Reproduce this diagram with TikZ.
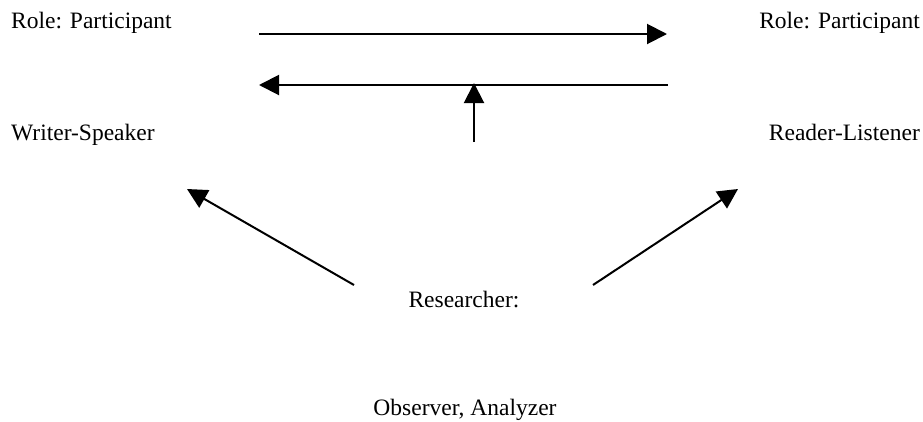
\documentclass[tikz,border=0pt]{standalone}
\usepackage{fontspec}
\setmainfont{Liberation Serif}
\usetikzlibrary{arrows.meta}
\begin{document}
\begin{tikzpicture}[x=1pt,y=-1pt,
  lbl/.style={font=\fontsize{23.5}{28}\selectfont,inner sep=0pt},
  arr/.style={line width=2pt,-{Triangle[length=20pt,width=20pt]}}]
\useasboundingbox (0,0) rectangle (923,421);
\node[lbl,anchor=base west] (rl) at (11,28) {Role: Participant};
\node[lbl,anchor=base east] (rr) at (920,28) {Role: Participant};
\node[lbl,anchor=base west] (ws) at (11,140) {Writer-Speaker};
\node[lbl,anchor=base east] (rd) at (920,140) {Reader-Listener};
\node[lbl,anchor=base] (re) at (464,307) {Researcher:};
\node[lbl,anchor=base] (ob) at (465,415) {Observer, Analyzer};
\coordinate (a1s) at (259,34);
\coordinate (a1e) at (667,34);
\coordinate (a2s) at (668,85);
\coordinate (a2e) at (259,85);
\coordinate (a3s) at (474,142);
\coordinate (a3e) at (474,83);
\coordinate (a4s) at (354,285);
\coordinate (a4e) at (187,189);
\coordinate (a5s) at (593,285);
\coordinate (a5e) at (738,189);
\draw[arr] (a1s) -- (a1e);
\draw[arr] (a2s) -- (a2e);
\draw[arr] (a3s) -- (a3e);
\draw[arr] (a4s) -- (a4e);
\draw[arr] (a5s) -- (a5e);
\end{tikzpicture}
\end{document}
